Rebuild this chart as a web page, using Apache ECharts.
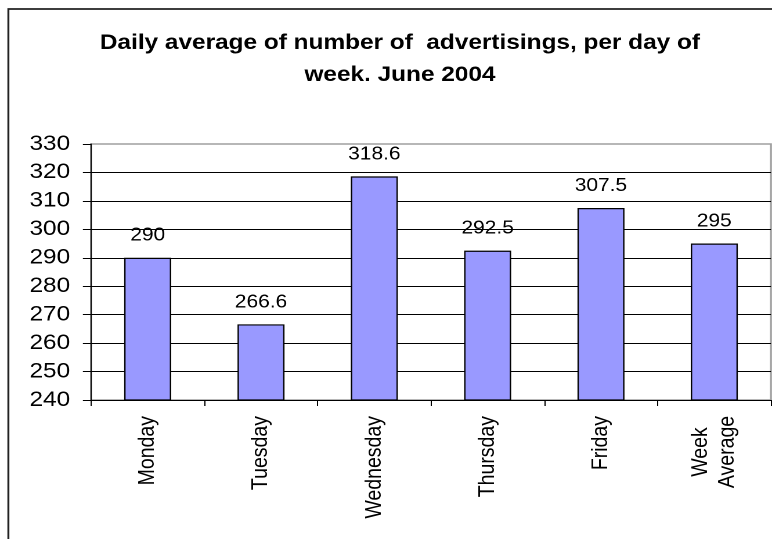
<!DOCTYPE html>
<html><head><meta charset="utf-8">
<script src="https://cdn.jsdelivr.net/npm/echarts@6/dist/echarts.min.js"></script>
<style>
html,body{margin:0;padding:0;background:#fff;overflow:hidden;width:772px;height:539px}
#c{width:665px;height:539px;transform:scaleX(1.16090);transform-origin:0 0;}
</style></head><body><div id="c"></div>
<script>
// Data
const titleText = 'Daily average of number of  advertisings, per day of\nweek. June 2004';
const categories = ['Monday', 'Tuesday', 'Wednesday', 'Thursday', 'Friday', 'Week\nAverage'];
const values = [290, 266.6, 318.6, 292.5, 307.5, 295];
const yMin = 240, yMax = 330, yStep = 10;

const FONT = "'Liberation Sans', Arial, sans-serif";
const chart = echarts.init(document.getElementById('c'), null, {renderer: 'canvas', devicePixelRatio: 2});

function catFormatter(v) {
  if (v.indexOf('\n') < 0) return v;
  return v.split('\n').map(s => '{c|' + s + '}').join('\n');
}

chart.setOption({
  animation: false,
  backgroundColor: '#fff',
  title: {
    text: titleText,
    left: 344.5,
    top: 27,
    textAlign: 'center',
    padding: 0,
    textStyle: {fontFamily: FONT, fontSize: 21, fontWeight: 'bold', color: '#000', lineHeight: 32}
  },
  graphic: [{
    type: 'rect', z: -10, silent: true,
    shape: {x: 7.2, y: 9, width: 800, height: 700},
    style: {fill: 'none', stroke: '#222', lineWidth: 1.7}
  }],
  grid: {
    left: 78.4, right: 0.9, top: 144, bottom: 139,
    show: true, borderColor: '#a0a0a0', borderWidth: 1.6, backgroundColor: '#fff'
  },
  xAxis: {
    type: 'category',
    data: categories,
    axisLine: {lineStyle: {color: '#000', width: 1}},
    axisTick: {show: true, alignWithLabel: false, length: 6, lineStyle: {color: '#000'}},
    axisLabel: {
      rotate: 90, margin: 16, color: '#000', fontFamily: FONT, fontSize: 19.5,
      lineHeight: 23, interval: 0,
      formatter: catFormatter,
      rich: {c: {width: 72, align: 'center', fontFamily: FONT, fontSize: 19.5, color: '#000', lineHeight: 23}}
    }
  },
  yAxis: {
    type: 'value', min: yMin, max: yMax, interval: yStep,
    axisLine: {show: true, lineStyle: {color: '#000', width: 1}},
    axisTick: {show: true, length: 7, lineStyle: {color: '#000'}},
    axisLabel: {margin: 18, color: '#000', fontFamily: FONT, fontSize: 21},
    splitLine: {show: true, showMaxLine: false, lineStyle: {color: '#000', width: 1}}
  },
  series: [{
    type: 'bar',
    data: values,
    barWidth: '41.5%',
    itemStyle: {color: '#9999FF', borderColor: '#000', borderWidth: 1.2},
    label: {show: true, position: 'top', distance: 13, color: '#000', fontFamily: FONT, fontSize: 18}
  }]
});
</script></body></html>
